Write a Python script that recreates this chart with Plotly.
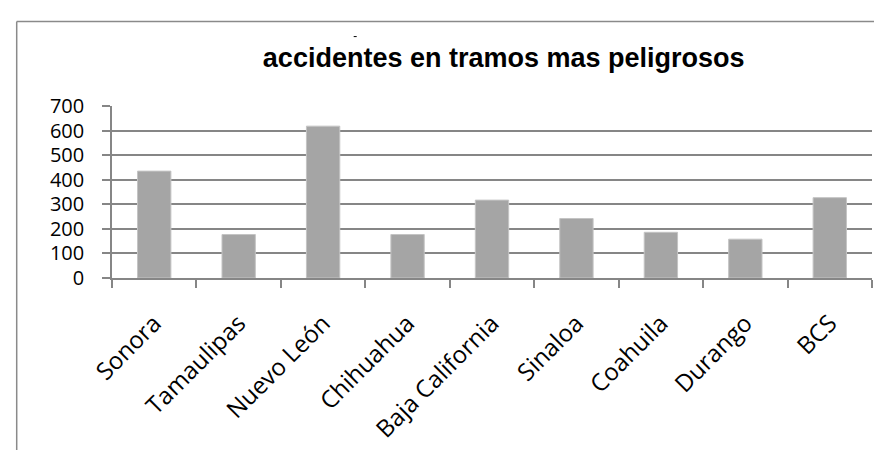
import plotly.graph_objects as go

categories = ["Sonora", "Tamaulipas", "Nuevo León", "Chihuahua", "Baja California",
              "Sinaloa", "Coahuila", "Durango", "BCS"]
values = [435, 177, 618, 177, 317, 242, 186, 158, 327]
y_ticks = [0, 100, 200, 300, 400, 500, 600, 700]

W, H = 882, 450
L, R, T, B = 104.3, 17.7, 98.3, 180
pw, ph = W - L - R, H - T - B

def px(x):
    return (x - L) / pw

def py(y):
    return (H - B - y) / ph

grid = "#868686"

fig = go.Figure(go.Bar(
    x=categories, y=values, width=0.395,
    marker=dict(color="#A5A5A5", line=dict(color="#C4C4C4", width=1)),
))

fig.update_layout(
    width=W, height=H,
    margin=dict(l=L, r=R, t=T, b=B, autoexpand=False),
    paper_bgcolor="white", plot_bgcolor="white",
    showlegend=False,
    title=dict(text="<b>accidentes en tramos mas peligrosos</b>",
               font=dict(family="Liberation Sans, Arial", size=27, color="black"),
               x=px(496), xref="paper", xanchor="center",
               y=1 - 50 / H, yref="container", yanchor="middle"),
    bargap=0.6,
)

fig.update_yaxes(
    range=[0, 700], tickvals=y_ticks, ticktext=[str(v) for v in y_ticks],
    showgrid=True, gridcolor=grid, gridwidth=1.5,
    showline=True, linecolor=grid, linewidth=1.5,
    ticks="outside", ticklen=8, tickcolor=grid, tickwidth=1.5,
    zeroline=False, ticklabelstandoff=14,
    tickfont=dict(family="Open Sans", size=20, color="black"),
)
fig.update_xaxes(
    showgrid=False, showline=True, linecolor=grid, linewidth=1.5,
    ticks="outside", ticklen=8, tickcolor=grid, tickwidth=1.5,
    tickson="boundaries", tickangle=-45, ticklabelstandoff=20,
    tickfont=dict(family="Open Sans", size=24, color="black"),
)

# chart-area border (cropped at right and bottom)
fig.add_shape(type="line", xref="paper", yref="paper",
              x0=px(9), x1=px(W + 5), y0=py(14), y1=py(14),
              line=dict(color="#8A8A8A", width=1.5))
fig.add_shape(type="line", xref="paper", yref="paper",
              x0=px(9), x1=px(9), y0=py(14), y1=py(H + 5),
              line=dict(color="#8A8A8A", width=1.5))
# tiny stray mark above the title
fig.add_shape(type="line", xref="paper", yref="paper",
              x0=px(346), x1=px(349), y0=py(29), y1=py(29),
              line=dict(color="black", width=1))

fig.write_html("out.html")
